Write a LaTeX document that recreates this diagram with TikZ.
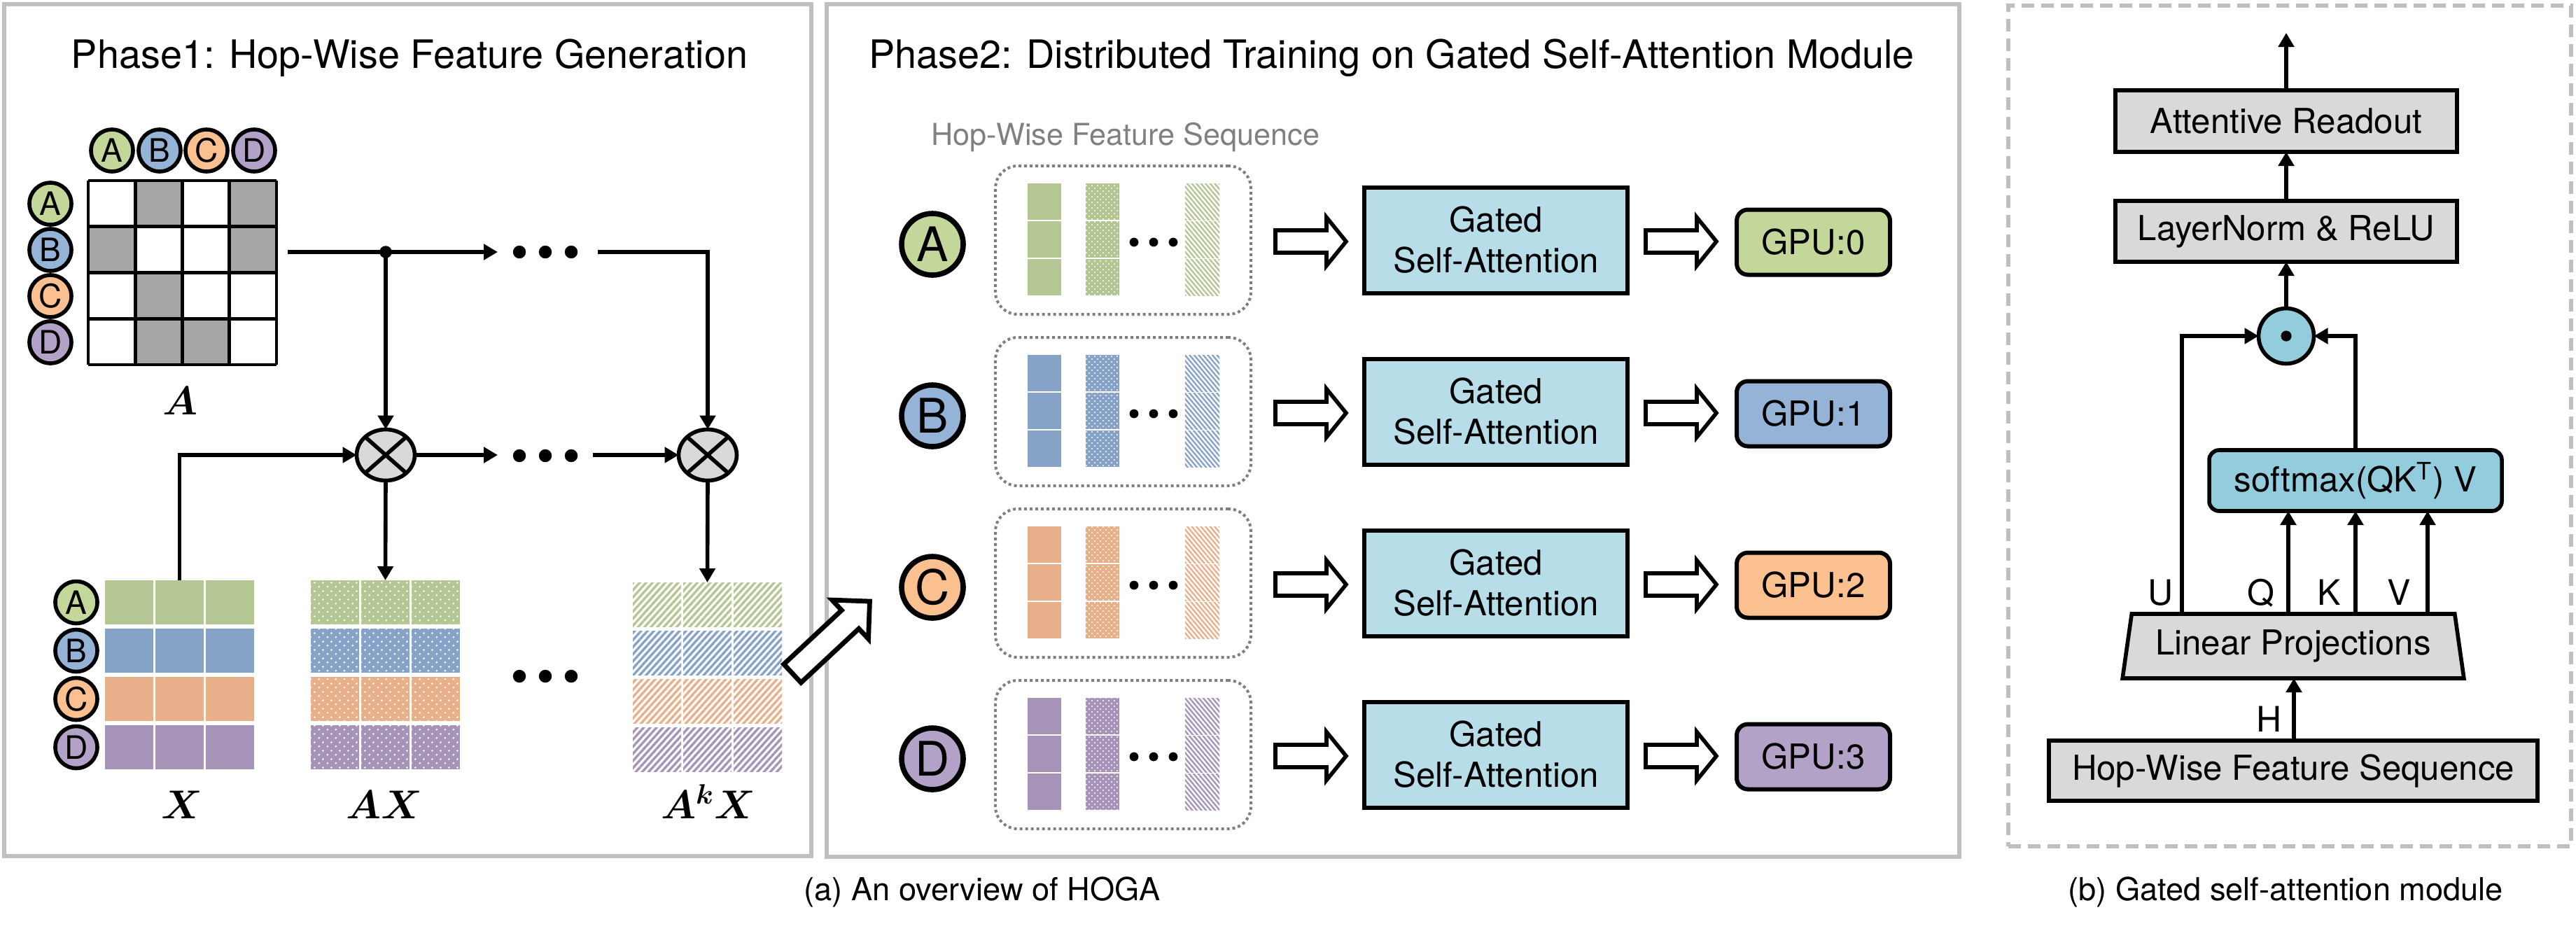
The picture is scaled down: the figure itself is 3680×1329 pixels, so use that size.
\documentclass[tikz,border=0pt]{standalone}
\usepackage{amsmath,bm}
\usepackage{fontspec}
\setmainfont{TeX Gyre Heros}
\usetikzlibrary{arrows.meta,shapes.geometric,patterns,patterns.meta,calc}
\def\pxu{0.25pt}
\definecolor{gC}{HTML}{C4D79B}
\definecolor{bC}{HTML}{95B3D7}
\definecolor{oC}{HTML}{FAC090}
\definecolor{pC}{HTML}{B3A2C7}
\definecolor{gX}{HTML}{B3C693}
\definecolor{bX}{HTML}{87A2C7}
\definecolor{oX}{HTML}{E8B08A}
\definecolor{pX}{HTML}{A593B8}
\definecolor{gatedblue}{HTML}{B7DEE8}
\definecolor{sblue}{HTML}{93CDDD}
\definecolor{boxgray}{HTML}{D9D9D9}
\definecolor{matgray}{HTML}{A6A6A6}
\definecolor{framegray}{HTML}{BFBFBF}
\definecolor{midgray}{HTML}{808080}
\definecolor{dotgray}{HTML}{7F7F7F}
\pgfdeclarepatternformonly{bigdots}{\pgfqpoint{-0.5pt}{-0.5pt}}{\pgfqpoint{2.5pt}{2.5pt}}{\pgfqpoint{3pt}{3pt}}{%
  \pgfpathcircle{\pgfqpoint{0pt}{0pt}}{0.4pt}%
  \pgfpathcircle{\pgfqpoint{1.5pt}{1.5pt}}{0.4pt}%
  \pgfusepath{fill}}
\pgfdeclarepatternformonly{smalldots}{\pgfqpoint{-0.4pt}{-0.4pt}}{\pgfqpoint{1.6pt}{1.6pt}}{\pgfqpoint{2pt}{2pt}}{%
  \pgfpathcircle{\pgfqpoint{0pt}{0pt}}{0.3pt}%
  \pgfpathcircle{\pgfqpoint{1pt}{1pt}}{0.3pt}%
  \pgfusepath{fill}}
\tikzset{
  phase/.style={draw=framegray, line width=1.5pt},
  phaseb/.style={draw=framegray, line width=1.5pt, dash pattern=on 4.5pt off 2.5pt},
  titlef/.style={font=\fontsize{13.95}{16}\selectfont},
  smallc/.style={circle, draw, line width=1.4pt, minimum size=60*\pxu, font=\fontsize{11.5}{13}\selectfont},
  bigc/.style={circle, draw, line width=1.9pt, minimum size=88*\pxu, font=\fontsize{17}{20}\selectfont},
  mathlab/.style={font=\fontsize{14}{17}\selectfont},
  ln/.style={line width=1.4pt},
  arr/.style={line width=1.4pt, -{Triangle[length=5pt,width=5.5pt]}},
  otimes/.style={ellipse, draw, line width=1.4pt, fill=boxgray, minimum width=83*\pxu, minimum height=73*\pxu},
  container/.style={draw=dotgray, line width=1pt, dash pattern=on 1pt off 1pt, rounded corners=8pt, minimum width=365*\pxu, minimum height=212*\pxu},
  gated/.style={draw, line width=1.5pt, fill=gatedblue, minimum width=376*\pxu, minimum height=151*\pxu, align=center, font=\fontsize{12.3}{14.5}\selectfont},
  gpu/.style={draw, line width=1.5pt, rounded corners=4pt, minimum width=219*\pxu, minimum height=93*\pxu, font=\fontsize{12.3}{14.5}\selectfont},
  graybox/.style={draw, line width=1.4pt, fill=boxgray, font=\fontsize{12.3}{14.5}\selectfont},
  lab/.style={font=\fontsize{12.5}{15}\selectfont},
  capf/.style={font=\fontsize{11.3}{13.5}\selectfont},
  smallarrow/.pic={\draw[line width=1.4pt, fill=white] (0,-16) -- (73,-16) -- (73,-34.5) -- (101,0) -- (73,34.5) -- (73,16) -- (0,16) -- cycle;},
  bigarrow/.pic={\draw[line width=1.7pt, fill=white] (0,-18) -- (113,-18) -- (113,-38) -- (151,0) -- (113,38) -- (113,18) -- (0,18) -- cycle;}
}
\begin{document}
\begin{tikzpicture}[x=0.25pt, y=-0.25pt, every node/.style={inner sep=0pt, outer sep=0pt}]
\useasboundingbox (0,0) rectangle (3680,1329);

% ---------- frames ----------
\node[phase, minimum width=1153*\pxu, minimum height=1217*\pxu] (ph1) at (582.5,614.5) {};
\node[phase, minimum width=1618*\pxu, minimum height=1218*\pxu] (ph2) at (1990,615) {};
\node[phaseb, minimum width=804*\pxu, minimum height=1201*\pxu] (phb) at (3271,608.5) {};

\node[titlef, anchor=base] (t1) at (585,97) {Phase1: Hop-Wise Feature Generation};
\node[titlef, anchor=base] (t2) at (1988,97) {Phase2: Distributed Training on Gated Self-Attention Module};

% ---------- matrix A ----------
\foreach \rr/\cc in {0/1,0/3,1/0,1/3,2/1,3/1,3/2}
  \fill[matgray] ({126+67.25*\cc},{258+65.75*\rr}) rectangle ++(67.25,65.75);
\foreach \k in {0,...,4} {
  \draw[line width=1.2pt] ({126+67.25*\k},258) -- ++(0,263);
  \draw[line width=1.2pt] (126,{258+65.75*\k}) -- ++(269,0);
}
\node[minimum width=269*\pxu, minimum height=263*\pxu] (Am) at (260.5,389.5) {};
\foreach \n/\x/\cl in {A/160/gC, B/228/bC, C/295/oC, D/363/pC}
  \node[smallc, fill=\cl] (h\n) at (\x,215) {\n};
\foreach \n/\y/\cl in {A/291/gC, B/357/bC, C/423/oC, D/489/pC}
  \node[smallc, fill=\cl] (v\n) at (72,\y) {\n};
\node[mathlab, anchor=base] (Alab) at (258,592) {$\bm{A}$};

% ---------- feature matrices ----------
\foreach \cl/\cx [count=\ii from 0] in {gC/gX, bC/bX, oC/oX, pC/pX} {
  \node[smallc, fill=\cl] (xr\ii) at (109,{860.5+69*\ii}) {\ifcase\ii A\or B\or C\or D\fi};
  \foreach \j in {0,1,2} {
    \fill[\cx] ({150+72*\j},{829+69*\ii}) rectangle ++(69,63);
    \path[fill=\cx, postaction={pattern=bigdots, pattern color=white}] ({444+72*\j},{829+69*\ii}) rectangle ++(69,63);
    \path[pattern={Lines[angle=48,distance=1.7pt,line width=0.85pt]}, pattern color=\cx] ({904+72*\j},{832+69*\ii}) rectangle ++(69,63);
  }
}
\node[minimum width=213*\pxu, minimum height=270*\pxu] (Xm) at (256.5,964) {};
\node[minimum width=213*\pxu, minimum height=270*\pxu] (AXm) at (550.5,964) {};
\node[minimum width=213*\pxu, minimum height=270*\pxu] (AkXm) at (1010.5,967) {};
\node[mathlab, anchor=base] (Xlab) at (260,1169) {$\bm{X}$};
\node[mathlab, anchor=base] (AXlab) at (549,1169) {$\bm{AX}$};
\node[mathlab, anchor=base] (AkXlab) at (1012,1169) {$\bm{A^{k}X}$};

% ---------- operators and connectors ----------
\node[otimes] (o1) at (551,650) {};
\node[otimes] (o2) at (1011,650) {};
\foreach \o in {o1,o2} {
  \draw[line width=1.4pt] (\o.north west) -- (\o.south east);
  \draw[line width=1.4pt] (\o.north east) -- (\o.south west);
}
\coordinate (aout) at (411,360);
\coordinate (jn) at (551,360);
\coordinate (d1w) at (711,360);
\coordinate (d1e) at (854,360);
\coordinate (d2w) at (711,650);
\coordinate (d2e) at (847,650);
\draw[ln] (aout) -- (jn);
\draw[arr] (jn) -- (d1w);
\fill (jn) circle[radius=2.2pt];
\draw[arr] (d1e) -| (o2.north);
\draw[arr] (jn) -- (o1.north);
\draw[arr] (Xm.north) |- (o1.west);
\draw[arr] (o1.east) -- (d2w);
\draw[arr] (d2e) -- (o2.west);
\draw[arr] (o1.south) -- (AXm.north);
\draw[arr] (o2.south) -- (AkXm.north);
\foreach \x in {742,779,816} {
  \fill (\x,360) circle[radius=2.3pt];
  \fill (\x,651) circle[radius=2.3pt];
  \fill (\x,966) circle[radius=2.3pt];
}

% ---------- Phase 2 ----------
\node[font=\fontsize{10.8}{13}\selectfont, text=midgray, anchor=base] (hwlab) at (1608,207) {Hop-Wise Feature Sequence};
\foreach \n/\cl/\cx [count=\ii from 0] in {A/gC/gX, B/bC/bX, C/oC/oX, D/pC/pX} {
  \pgfmathsetmacro{\ry}{343+245*\ii}
  \node[bigc, fill=\cl] (c\n) at (1332,\ry+6) {\n};
  \node[container] (s\n) at (1604.5,\ry) {};
  \foreach \k in {0,1,2} {
    \fill[\cx] (1468,{\ry-81+54*\k}) rectangle ++(48,52);
    \path[fill=\cx, postaction={pattern=smalldots, pattern color=white}] (1551,{\ry-81+54*\k}) rectangle ++(48,52);
    \path[pattern={Lines[angle=-50,distance=1.25pt,line width=0.6pt]}, pattern color=\cx] (1693,{\ry-81+54*\k}) rectangle ++(49,52);
  }
  \foreach \x in {1620,1648,1676} \fill (\x,\ry+3) circle[radius=1.6pt];
  \pic at (1822,\ry+2) {smallarrow};
  \node[gated] (g\n) at (2137,\ry) {Gated\\Self-Attention};
  \pic at (2351,\ry+2) {smallarrow};
  \node[gpu, fill=\cl] (gpu\n) at (2590.5,\ry+3) {GPU:\ii};
}
\pic[rotate=43] at (1132,962) {bigarrow};

% ---------- (b) gated self-attention module ----------
\node[graybox, minimum width=488*\pxu, minimum height=88*\pxu] (readout) at (3266,173) {Attentive Readout};
\node[graybox, minimum width=488*\pxu, minimum height=87*\pxu] (lnorm) at (3266,330.5) {LayerNorm \& ReLU};
\node[circle, draw, line width=1.4pt, fill=sblue, minimum size=79*\pxu] (odot) at (3266,480) {};
\fill (odot.center) circle[radius=1.9pt];
\node[draw, line width=1.4pt, fill=sblue, rounded corners=3.5pt, minimum width=418*\pxu, minimum height=87*\pxu, font=\fontsize{12.3}{14.5}\selectfont] (soft) at (3365,686.5) {softmax(QK\textsuperscript{T}) V};
\node[trapezium, trapezium left angle=76.5, trapezium right angle=76.5, trapezium stretches=true, draw, line width=1.4pt, fill=boxgray, minimum width=488*\pxu, minimum height=92*\pxu, font=\fontsize{12.3}{14.5}\selectfont] (lin) at (3276,923) {Linear Projections};
\node[graybox, minimum width=698*\pxu, minimum height=86*\pxu] (hop) at (3276,1101) {Hop-Wise Feature Sequence};

\coordinate (topend) at (3266,47);
\draw[arr] (readout.north) -- (topend);
\draw[arr] (lnorm.north) -- (readout.south);
\draw[arr] (odot.north) -- (lnorm.south);
\coordinate (ux) at (3117,0);
\draw[arr] (lin.north -| ux) |- (odot.west);
\draw[arr] (soft.north) |- (odot.east);
\foreach \x/\nm in {3269/q,3365/k,3468/v} {
  \coordinate (\nm x) at (\x,0);
  \draw[arr] (lin.north -| \nm x) -- (soft.south -| \nm x);
}
\coordinate (hx) at (3277,0);
\draw[arr] (hop.north -| hx) -- (lin.south -| hx);
\node[lab, anchor=base] (lU) at (3087,864) {U};
\node[lab, anchor=base] (lQ) at (3230,864) {Q};
\node[lab, anchor=base] (lK) at (3327,864) {K};
\node[lab, anchor=base] (lV) at (3427,864) {V};
\node[lab, anchor=base] (lH) at (3241,1045) {H};

% ---------- captions ----------
\node[capf, anchor=base] (capa) at (1403,1286) {(a) An overview of HOGA};
\node[capf, anchor=base] (capb) at (3265,1286) {(b) Gated self-attention module};
\end{tikzpicture}
\end{document}
